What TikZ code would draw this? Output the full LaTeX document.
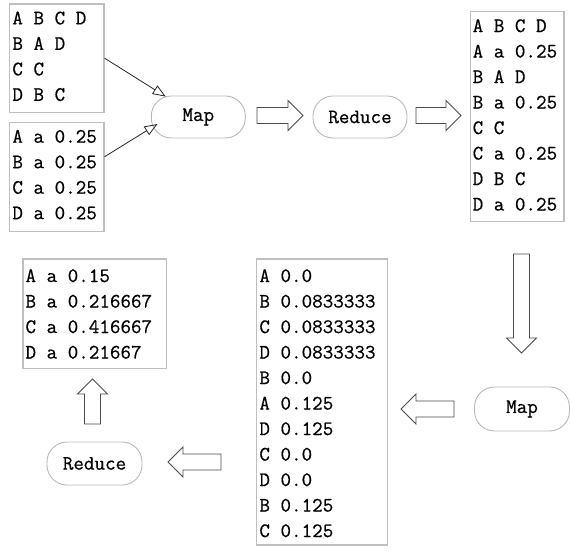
\documentclass[tikz,border=0pt]{standalone}
\usepackage{fontspec}
\newfontfamily\codefont[FakeBold=0.6]{Latin Modern Mono}
\usetikzlibrary{arrows.meta}
\begin{document}
\begin{tikzpicture}[x=1pt,y=-1pt,
  frame/.style={draw=black!25, line width=1.2pt, inner sep=0pt, anchor=north west},
  lines/.style={font=\fontsize{20.5}{25.5}\selectfont\codefont, align=left, inner sep=0pt, anchor=north west},
  pill/.style={draw=black!28, line width=0.9pt, rounded corners=20pt, minimum width=94pt, minimum height=42pt, inner sep=0pt, font=\fontsize{20.5}{24}\selectfont\codefont},
  link/.style={draw=black!85, line width=0.8pt, -{Triangle[open, length=13pt, width=10pt]}},
  fat/.style={draw=black!70, line width=0.9pt, fill=white, line join=miter},
  pics/fatarrow/.style={code={\path[fat] (0,-8) -- (#1-15,-8) -- (#1-15,-15) -- (#1,0) -- (#1-15,15) -- (#1-15,8) -- (0,8) -- cycle;}}
]
\useasboundingbox (0,0) rectangle (570,550);

% input: adjacency lists and initial ranks
\node[frame, minimum width=94.6pt, minimum height=108.4pt] (f1) at (8.7,3.3) {};
\node[lines] (t1) at ([shift={(3.5,8)}]f1.north west) {A B C D\\B A D\\C C\\D B C};
\node[frame, minimum width=94.6pt, minimum height=109pt] (f2) at (8.7,121.7) {};
\node[lines] (t2) at ([shift={(3.5,8)}]f2.north west) {A a 0.25\\B a 0.25\\C a 0.25\\D a 0.25};

% first map/reduce round
\node[pill] (m1) at (198.3,117) {Map};
\node[pill] (r1) at (360,117) {Reduce};

\node[frame, minimum width=93.3pt, minimum height=210.3pt] (f3) at (470,10.7) {};
\node[lines] (t3) at ([shift={(2.5,8.3)}]f3.north west) {A B C D\\A a 0.25\\B A D\\B a 0.25\\C C\\C a 0.25\\D B C\\D a 0.25};

% second map/reduce round
\node[pill, minimum width=95pt, minimum height=44pt] (m2) at (522,409) {Map};
\node[frame, minimum width=130.7pt, minimum height=286pt] (f4) at (256,258.3) {};
\node[lines] (t4) at ([shift={(3.2,10.7)}]f4.north west) {A 0.0\\B 0.0833333\\C 0.0833333\\D 0.0833333\\B 0.0\\A 0.125\\D 0.125\\C 0.0\\D 0.0\\B 0.125\\C 0.125};
\node[pill, minimum width=95pt, minimum height=43pt] (r2) at (94.5,463.5) {Reduce};

% result
\node[frame, minimum width=143.7pt, minimum height=109.7pt] (f5) at (22.3,258.3) {};
\node[lines] (t5) at ([shift={(3,10.7)}]f5.north west) {A a 0.15\\B a 0.216667\\C a 0.416667\\D a 0.21667};

% inputs feeding the first map
\coordinate (m1a) at ([shift={(-32.6,1)}]m1.north);
\coordinate (m1b) at ([shift={(6.6,7)}]m1.west);
\draw[link] (f1.east) -- (m1a);
\draw[link] ([shift={(0,-20)}]f2.east) -- (m1b);

% block arrows between stages
\pic at (257,115.5) {fatarrow=46};
\pic at (416,115.5) {fatarrow=45};
\pic[rotate=-90] at (521.5,254) {fatarrow=99};
\pic[rotate=180] at (454,409) {fatarrow=53};
\pic[rotate=180] at (221,462) {fatarrow=53};
\pic[rotate=90] at (92.5,424) {fatarrow=45};
\end{tikzpicture}
\end{document}
